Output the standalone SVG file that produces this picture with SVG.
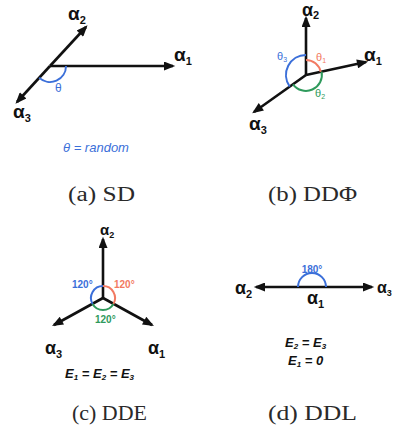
<svg xmlns="http://www.w3.org/2000/svg" width="393" height="429" viewBox="0 0 393 429">
<style>
.ln{stroke:#111;stroke-width:2.6;fill:none}
.arc{fill:none;stroke-width:2}
.al{font-family:"Liberation Sans",Arial,sans-serif;font-weight:bold;fill:#111}
.sub{font-size:11px}
.cap{font-family:"Liberation Serif","Times New Roman",serif;font-size:20px;fill:#2a2a2a}
.deg{font-family:"Liberation Sans",Arial,sans-serif;font-weight:bold;font-size:10px}
.eq{font-family:"Liberation Sans",Arial,sans-serif;font-weight:bold;font-style:italic;font-size:13px;fill:#111}
.blue{stroke:#3b6fd9}.red{stroke:#f27a62}.green{stroke:#2f9a5c}
</style>
<defs>
<marker id="ah" viewBox="0 0 10 8" refX="8" refY="4" markerWidth="13" markerHeight="9" markerUnits="userSpaceOnUse" orient="auto"><path d="M0,0 L10,4 L0,8 z" fill="#111"/></marker>
</defs>
<rect width="393" height="429" fill="#fff"/>
<g id="connectors">
<line class="ln" x1="50" y1="66" x2="173" y2="66" marker-end="url(#ah)"/>
<line class="ln" x1="50" y1="66" x2="86" y2="27" marker-end="url(#ah)"/>
<line class="ln" x1="50" y1="66" x2="17" y2="102" marker-end="url(#ah)"/>
<line class="ln" x1="306" y1="75" x2="306" y2="18" marker-end="url(#ah)"/>
<line class="ln" x1="306" y1="75" x2="366" y2="62" marker-end="url(#ah)"/>
<line class="ln" x1="306" y1="75" x2="254" y2="112" marker-end="url(#ah)"/>
<line class="ln" x1="103" y1="298" x2="103" y2="239" marker-end="url(#ah)"/>
<line class="ln" x1="103" y1="298" x2="152" y2="325" marker-end="url(#ah)"/>
<line class="ln" x1="103" y1="298" x2="54" y2="325" marker-end="url(#ah)"/>
<line class="ln" x1="312" y1="287" x2="256" y2="287" marker-end="url(#ah)"/>
<line class="ln" x1="312" y1="287" x2="372" y2="287" marker-end="url(#ah)"/>
</g>
<g id="panel-a">
<path class="arc blue" d="M39.2,77.8 A16,16 0 0 0 66,66"/>
<text class="al" x="174" y="61" font-size="19">α<tspan class="sub" dy="4">1</tspan></text>
<text class="al" x="68" y="20" font-size="19">α<tspan class="sub" dy="4">2</tspan></text>
<text class="al" x="13" y="118" font-size="19">α<tspan class="sub" dy="4">3</tspan></text>
<text x="55" y="92" font-family="Liberation Sans,Arial,sans-serif" font-size="12" fill="#3b6fd9">θ</text>
<text x="63" y="152" font-family="Liberation Sans,Arial,sans-serif" font-style="italic" font-size="13" fill="#3b6fd9">θ = random</text>
<text class="cap" x="68" y="201" textLength="67" lengthAdjust="spacingAndGlyphs">(a) SD</text>
</g>
<g id="panel-b">
<path class="arc red" d="M306,60 A15,15 0 0 1 320.7,71.9"/>
<path class="arc blue" d="M306,55 A20,20 0 0 0 289.7,86.6"/>
<path class="arc green" d="M293,84.3 A16,16 0 0 0 321.6,71.7"/>
<text class="al" x="302" y="16" font-size="18">α<tspan class="sub" dy="3">2</tspan></text>
<text class="al" x="364" y="61" font-size="19">α<tspan class="sub" dy="4">1</tspan></text>
<text class="al" x="249" y="130" font-size="19">α<tspan class="sub" dy="4">3</tspan></text>
<text x="316" y="61" font-family="Liberation Sans,Arial,sans-serif" font-size="11" fill="#f27a62">θ<tspan font-size="7" dy="2">1</tspan></text>
<text x="277" y="60" font-family="Liberation Sans,Arial,sans-serif" font-size="11" fill="#3b6fd9">θ<tspan font-size="7" dy="2">3</tspan></text>
<text x="315" y="97" font-family="Liberation Sans,Arial,sans-serif" font-size="11" fill="#2f9a5c">θ<tspan font-size="7" dy="2">2</tspan></text>
<text class="cap" x="268" y="201" textLength="89" lengthAdjust="spacingAndGlyphs">(b) DDΦ</text>
</g>
<g id="panel-c">
<path class="arc blue" d="M103,286 A12,12 0 0 0 92.6,304"/>
<path class="arc red" d="M103,286 A12,12 0 0 1 113.4,304"/>
<path class="arc green" d="M92.6,304 A12,12 0 0 0 113.4,304"/>
<text class="al" x="100" y="235" font-size="15">α<tspan font-size="9" dy="3">2</tspan></text>
<text class="al" x="45" y="354" font-size="18">α<tspan class="sub" dy="4">3</tspan></text>
<text class="al" x="148" y="354" font-size="18">α<tspan class="sub" dy="4">1</tspan></text>
<text class="deg" x="72" y="288" fill="#3b6fd9">120°</text>
<text class="deg" x="114" y="288" fill="#f27a62">120°</text>
<text class="deg" x="95" y="323" fill="#2f9a5c">120°</text>
<text class="eq" x="65" y="378">E<tspan font-size="8" dy="2">1</tspan><tspan dy="-2"> = E</tspan><tspan font-size="8" dy="2">2</tspan><tspan dy="-2"> = E</tspan><tspan font-size="8" dy="2">3</tspan></text>
<text class="cap" x="72" y="420" textLength="75" lengthAdjust="spacingAndGlyphs">(c) DDE</text>
</g>
<g id="panel-d">
<path class="arc blue" d="M298,287 A14,14 0 0 1 326,287"/>
<text class="deg" x="312" y="273" text-anchor="middle" fill="#3b6fd9">180°</text>
<text class="al" x="235" y="294" font-size="18">α<tspan class="sub" dy="4">2</tspan></text>
<text class="al" x="307" y="304" font-size="18">α<tspan class="sub" dy="4">1</tspan></text>
<text class="al" x="377" y="293" font-size="16">α<tspan font-size="9" dy="3">3</tspan></text>
<text class="eq" x="285" y="347">E<tspan font-size="8" dy="2">2</tspan><tspan dy="-2"> = E</tspan><tspan font-size="8" dy="2">3</tspan></text>
<text class="eq" x="288" y="365">E<tspan font-size="8" dy="2">1</tspan><tspan dy="-2"> = 0</tspan></text>
<text class="cap" x="268" y="420" textLength="89" lengthAdjust="spacingAndGlyphs">(d) DDL</text>
</g>
</svg>
